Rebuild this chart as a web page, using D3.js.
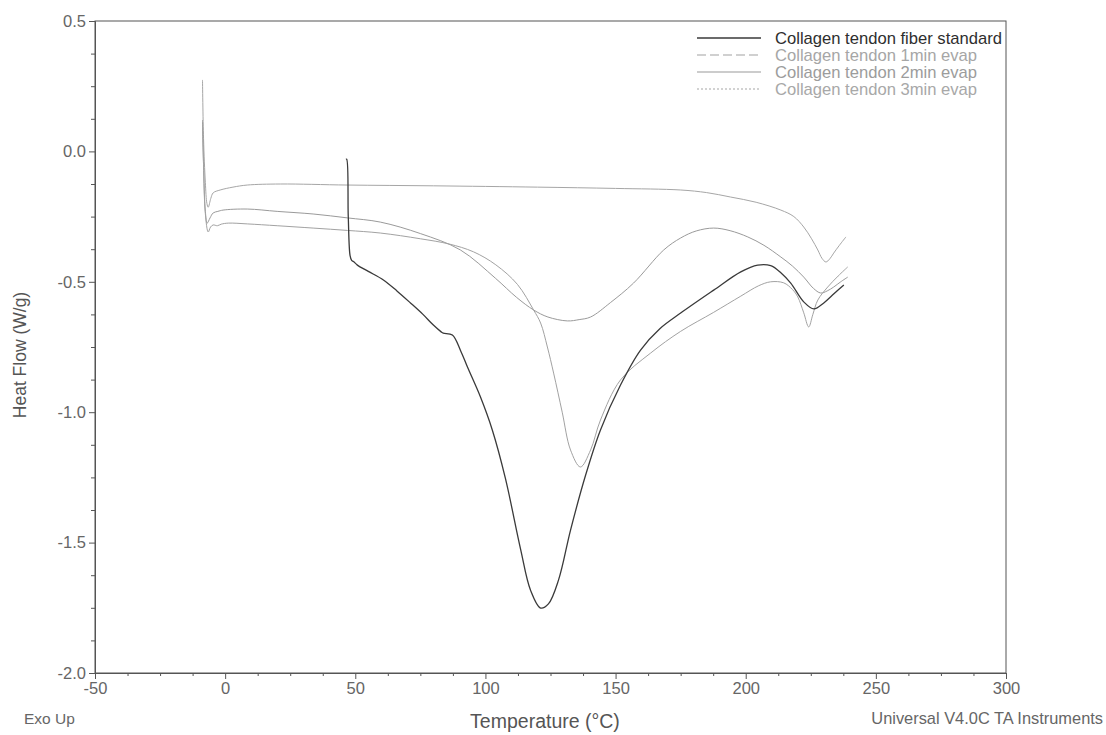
<!DOCTYPE html>
<html>
<head>
<meta charset="utf-8">
<script src="https://cdn.jsdelivr.net/npm/d3@7"></script>
<style>
  html, body { margin: 0; padding: 0; background: #ffffff; }
  svg { display: block; font-family: "Liberation Sans", Arial, sans-serif; }
</style>
</head>
<body>
<svg id="chart" width="1106" height="735"></svg>
<script>
// DSC thermograms: temperature (°C) vs heat flow (W/g), exo up
const seriesNames = [
  "Collagen tendon fiber standard",
  "Collagen tendon 1min evap",
  "Collagen tendon 2min evap",
  "Collagen tendon 3min evap"
];

const fiberStandard = [
  [46.4, -0.03], [46.7, -0.03], [47.3, -0.25], [48.0, -0.40], [48.6, -0.418],
  [49.3, -0.422], [50.8, -0.436], [55.0, -0.46], [60.8, -0.493], [66.0, -0.535],
  [71.2, -0.581], [76.0, -0.625], [80.0, -0.666], [83.0, -0.692], [83.8, -0.697],
  [87.3, -0.704], [90.5, -0.765], [93.1, -0.827], [98.1, -0.942], [102.7, -1.07],
  [107.7, -1.255], [113.5, -1.525], [117.3, -1.682], [121.2, -1.751], [124.2, -1.735],
  [128.1, -1.643], [132.7, -1.452], [138.5, -1.241], [144.2, -1.068], [151.9, -0.896],
  [159.6, -0.762], [167.0, -0.68], [175.0, -0.62], [187.7, -0.532], [198.1, -0.462],
  [204.6, -0.436], [209.6, -0.438], [213.5, -0.465], [217.3, -0.505], [222.3, -0.577],
  [226.2, -0.604], [230.0, -0.581], [234.0, -0.545], [237.7, -0.512]
];

const evap1min = [
  [-8.7, 0.10], [-8.3, -0.05], [-7.6, -0.24], [-6.5, -0.309], [-5.6, -0.29],
  [-4.6, -0.282], [-3.0, -0.285], [-1.5, -0.279], [1.2, -0.275], [8.5, -0.278],
  [20.0, -0.285], [33.8, -0.294], [47.0, -0.303], [59.6, -0.313], [75.0, -0.335],
  [86.0, -0.355], [95.4, -0.385], [104.0, -0.435], [112.3, -0.51], [118.5, -0.608],
  [121.2, -0.658], [123.8, -0.75], [126.2, -0.85], [129.5, -1.0], [132.7, -1.145],
  [136.5, -1.21], [140.4, -1.145], [144.2, -1.03], [151.9, -0.876], [163.5, -0.773],
  [175.0, -0.69], [187.7, -0.617], [198.1, -0.555], [205.0, -0.515], [209.6, -0.5],
  [214.6, -0.504], [218.0, -0.53], [220.0, -0.558], [222.3, -0.619], [224.2, -0.673],
  [225.8, -0.625], [227.7, -0.57], [231.5, -0.52], [235.5, -0.478], [239.2, -0.443]
];

const evap2min = [
  [-8.7, 0.12], [-8.3, -0.05], [-7.6, -0.23], [-6.9, -0.275], [-5.8, -0.255],
  [-4.6, -0.236], [-2.8, -0.23], [-0.8, -0.225], [8.5, -0.221], [20.0, -0.23],
  [33.8, -0.24], [47.0, -0.255], [59.6, -0.271], [75.0, -0.315], [90.4, -0.378],
  [103.8, -0.486], [112.0, -0.56], [118.5, -0.608], [124.0, -0.635], [131.5, -0.65],
  [136.0, -0.645], [140.4, -0.635], [148.0, -0.58], [156.9, -0.505], [168.5, -0.378],
  [175.0, -0.332], [181.0, -0.305], [187.7, -0.294], [194.0, -0.304], [200.8, -0.328],
  [207.0, -0.36], [213.5, -0.405], [218.0, -0.44], [222.3, -0.482], [226.0, -0.525],
  [228.8, -0.543], [231.3, -0.535], [233.8, -0.52], [236.5, -0.5], [239.2, -0.482]
];

const evap3min = [
  [-8.7, 0.274], [-8.3, 0.05], [-7.6, -0.12], [-7.0, -0.20], [-6.5, -0.214],
  [-5.5, -0.18], [-4.6, -0.159], [-1.9, -0.148], [3.0, -0.137], [8.5, -0.129],
  [21.2, -0.125], [46.9, -0.129], [80.0, -0.132], [120.0, -0.137], [150.0, -0.142],
  [175.0, -0.148], [185.0, -0.158], [194.2, -0.175], [204.0, -0.195], [213.5, -0.225],
  [218.5, -0.25], [222.3, -0.29], [225.3, -0.335], [227.7, -0.378], [229.3, -0.41],
  [230.8, -0.424], [232.3, -0.412], [233.8, -0.39], [236.0, -0.36], [238.5, -0.328]
];

const xTickValues = [-50, 0, 50, 100, 150, 200, 250, 300];
const xTickLabels = ["-50", "0", "50", "100", "150", "200", "250", "300"];
const yTickValues = [0.5, 0.0, -0.5, -1.0, -1.5, -2.0];
const yTickLabels = ["0.5", "0.0", "-0.5", "-1.0", "-1.5", "-2.0"];

(function draw() {
  const allSeries = [fiberStandard, evap1min, evap2min, evap3min];
  const lineColors = ["#3a3a3a", "#a2a2a2", "#9a9a9a", "#a6a6a6"];
  const lineWidths = [1.3, 1.0, 1.0, 1.0];
  const legendDash = [null, "9,4", null, "2,2"];
  const legendText = ["#2e2e2e", "#a6a6a6", "#9c9c9c", "#a8a8a8"];

  const svg = d3.select("#chart");
  const plotLeft = 95, plotRight = 1006, plotTop = 21, plotBottom = 673;

  const x = d3.scaleLinear().domain([-50, 300]).range([plotLeft, plotRight]);
  const y = d3.scaleLinear().domain([-2.0, 0.5]).range([plotBottom, plotTop]);

  const axisColor = "#555";
  const labelColor = "#666";

  // frame
  svg.append("rect")
    .attr("x", plotLeft).attr("y", plotTop)
    .attr("width", plotRight - plotLeft).attr("height", plotBottom - plotTop)
    .attr("fill", "none").attr("stroke", axisColor).attr("stroke-width", 1);

  // bottom axis: majors every 50, minors every 12.5
  const xMinor = d3.range(-50, 300.01, 12.5).filter(v => !xTickValues.includes(v));
  const xAxis = d3.axisBottom(x).tickValues(xTickValues).tickSize(6)
    .tickFormat((d, i) => xTickLabels[i]);
  const gx = svg.append("g").attr("transform", `translate(0,${plotBottom})`).call(xAxis);
  gx.select(".domain").attr("stroke", axisColor);
  gx.selectAll(".tick line").attr("stroke", axisColor);
  gx.selectAll(".tick text").attr("fill", labelColor).attr("font-size", 16.5);
  const gxm = svg.append("g").attr("transform", `translate(0,${plotBottom})`)
    .call(d3.axisBottom(x).tickValues(xMinor).tickSize(3).tickFormat(""));
  gxm.select(".domain").remove();
  gxm.selectAll(".tick line").attr("stroke", axisColor);

  // left axis: majors every 0.5, minors every 0.125
  const yMinor = d3.range(-2.0, 0.5001, 0.125).filter(v => !yTickValues.some(t => Math.abs(t - v) < 1e-9));
  const yAxis = d3.axisLeft(y).tickValues(yTickValues).tickSize(6)
    .tickFormat((d, i) => yTickLabels[i]);
  const gy = svg.append("g").attr("transform", `translate(${plotLeft},0)`).call(yAxis);
  gy.select(".domain").attr("stroke", axisColor);
  gy.selectAll(".tick line").attr("stroke", axisColor);
  gy.selectAll(".tick text").attr("fill", labelColor).attr("font-size", 16.5).attr("x", -9);
  const gym = svg.append("g").attr("transform", `translate(${plotLeft},0)`)
    .call(d3.axisLeft(y).tickValues(yMinor).tickSize(4).tickFormat(""));
  gym.select(".domain").remove();
  gym.selectAll(".tick line").attr("stroke", axisColor);

  // thermogram curves
  const line = d3.line()
    .x(d => x(d[0]))
    .y(d => y(d[1]))
    .curve(d3.curveCatmullRom.alpha(0.5));

  [3, 2, 1, 0].forEach(i => {
    svg.append("path")
      .datum(allSeries[i])
      .attr("d", line)
      .attr("fill", "none")
      .attr("stroke", lineColors[i])
      .attr("stroke-width", lineWidths[i])
      .attr("stroke-linejoin", "round");
  });

  // legend
  const legend = svg.append("g").attr("transform", "translate(697,38)");
  seriesNames.forEach((name, i) => {
    const row = legend.append("g").attr("transform", `translate(0,${i * 17})`);
    row.append("line")
      .attr("x1", 0).attr("x2", 64).attr("y1", 0).attr("y2", 0)
      .attr("stroke", lineColors[i])
      .attr("stroke-width", i === 0 ? 1.4 : 1.2)
      .attr("stroke-dasharray", legendDash[i]);
    row.append("text")
      .attr("x", 78).attr("y", 0).attr("dy", "0.35em")
      .attr("font-size", 16.6)
      .attr("fill", legendText[i])
      .text(name);
  });

  // axis titles and footer notes
  svg.append("text")
    .attr("transform", `translate(26,355) rotate(-90)`)
    .attr("text-anchor", "middle")
    .attr("font-size", 17.5)
    .attr("fill", "#555")
    .text("Heat Flow (W/g)");

  svg.append("text")
    .attr("x", 545).attr("y", 728)
    .attr("text-anchor", "middle")
    .attr("font-size", 19.5)
    .attr("fill", "#555")
    .text("Temperature (°C)");

  svg.append("text")
    .attr("x", 24).attr("y", 724)
    .attr("font-size", 15.5)
    .attr("fill", "#666")
    .text("Exo Up");

  svg.append("text")
    .attr("x", 1103).attr("y", 724)
    .attr("text-anchor", "end")
    .attr("font-size", 16.4)
    .attr("fill", "#666")
    .text("Universal V4.0C TA Instruments");
})();
</script>
</body>
</html>
